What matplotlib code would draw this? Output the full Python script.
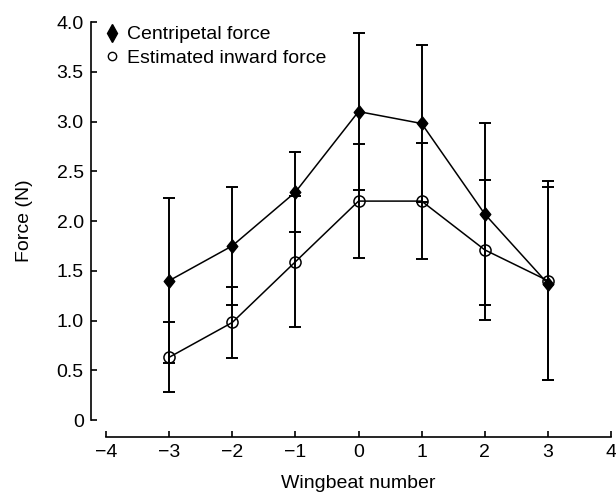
import matplotlib
matplotlib.use('Agg')
import matplotlib.pyplot as plt
from matplotlib.lines import Line2D
import numpy as np

plt.rcParams['font.family'] = ['Liberation Sans', 'DejaVu Sans']

# wingbeat number and the two force series (N), with their error bars
wingbeat = [-3, -2, -1, 0, 1, 2, 3]
centripetal = [1.40, 1.75, 2.29, 3.10, 2.98, 2.07, 1.37]
centripetal_err = [0.83, 0.59, 0.40, 0.79, 0.79, 0.91, 0.97]
inward = [0.63, 0.98, 1.59, 2.20, 2.20, 1.71, 1.40]
inward_err = [0.35, 0.36, 0.66, 0.57, 0.58, 0.70, 1.00]

xticks = [-4, -3, -2, -1, 0, 1, 2, 3, 4]
yticks = [0, 0.5, 1.0, 1.5, 2.0, 2.5, 3.0, 3.5, 4.0]
yticklabels = ['0', '0.5', '1.0', '1.5', '2.0', '2.5', '3.0', '3.5', '4.0']

# slightly tall diamond, like the one in the figure
diamond = [(0, 1), (0.8, 0), (0, -1), (-0.8, 0), (0, 1)]

fig = plt.figure(figsize=(6.16, 4.98), dpi=100)
ax = fig.add_axes([106/616, 78/498, 505/616, 398/498])

#error bars first, then lines and markers on top
ax.errorbar(wingbeat, centripetal, yerr=centripetal_err, fmt='none',
            ecolor='black', elinewidth=1.4, capsize=4, capthick=1.4)
ax.errorbar(wingbeat, inward, yerr=inward_err, fmt='none',
            ecolor='black', elinewidth=1.4, capsize=4, capthick=1.4)
ax.plot(wingbeat, centripetal, color='black', lw=1.1, marker=diamond,
        markersize=9.5, markerfacecolor='black', markeredgecolor='black', zorder=3)
ax.plot(wingbeat, inward, color='black', lw=1.1, marker='o',
        markersize=8, markerfacecolor='none', markeredgecolor='black',
        markeredgewidth=1.1, zorder=3)

ax.set_xlim(-4, 4)
ax.set_ylim(0, 4)
ax.set_xticks(xticks)
ax.set_yticks(yticks)
ax.set_yticklabels(yticklabels)

for s in ['top', 'right']:
    ax.spines[s].set_visible(False)
ax.spines['left'].set_position(('outward', 11))
ax.spines['bottom'].set_position(('outward', 12))
ax.spines['left'].set_bounds(0, 4)
ax.spines['bottom'].set_bounds(-4, 4)
for s in ['left', 'bottom']:
    ax.spines[s].set_linewidth(1.2)
ax.tick_params(direction='in', length=4, width=1.2, labelsize=14, pad=5)

ax.set_xlabel('Wingbeat number', fontsize=14, labelpad=10)
ax.set_ylabel('Force (N)', fontsize=14, labelpad=17)

handles = [Line2D([], [], ls='none', marker='d', markersize=9, color='black'),
           Line2D([], [], ls='none', marker='o', markersize=6, markerfacecolor='none',
                  markeredgecolor='black')]
ax.legend(handles, ['Centripetal force', 'Estimated inward force'], loc='upper left',
          bbox_to_anchor=(-0.015, 1.01), frameon=False, fontsize=14,
          handlelength=0.6, handletextpad=0.45, labelspacing=0.3, borderaxespad=0)

fig.savefig('out.png', dpi=100)
